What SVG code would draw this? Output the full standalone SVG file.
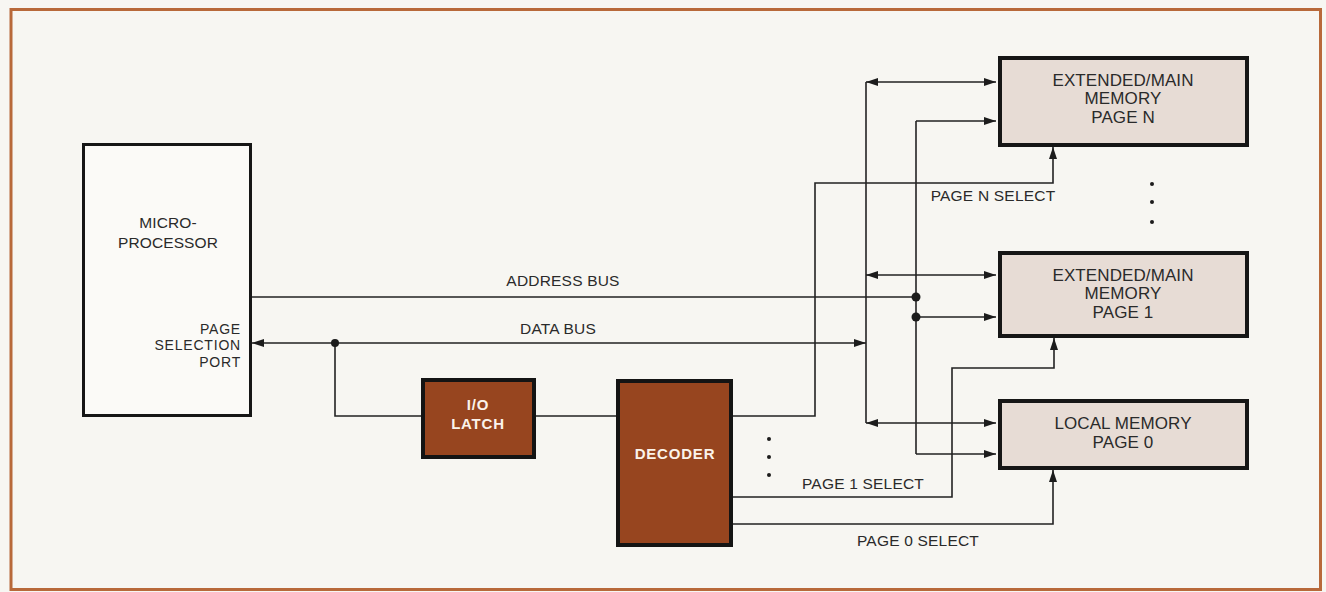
<svg xmlns="http://www.w3.org/2000/svg" width="1326" height="592" viewBox="0 0 1326 592">
<defs>
<marker id="arr" viewBox="0 0 12 8" refX="12" refY="4" markerWidth="12" markerHeight="8" markerUnits="userSpaceOnUse" orient="auto-start-reverse">
<path d="M0,0 L12,4 L0,8 z" fill="#1c1c1c"/>
</marker>
<style>
.ln{fill:none;stroke:#222;stroke-width:1.6}
.dot{fill:#1c1c1c}
.t{font-family:"Liberation Sans",Arial,sans-serif;font-size:15.5px;fill:#2a2a2a;letter-spacing:0.2px}
.m{font-family:"Liberation Sans",Arial,sans-serif;font-size:17px;fill:#2a2a2a;letter-spacing:0.1px;text-anchor:middle}
.w{font-family:"Liberation Sans",Arial,sans-serif;font-size:15px;font-weight:bold;fill:#fbf3ea;text-anchor:middle;letter-spacing:0.8px}
.mem{fill:#e7dcd5;stroke:#161616;stroke-width:4}
.brn{fill:#97451f;stroke:#141414;stroke-width:4}
</style>
</defs>
<rect x="0" y="0" width="1326" height="592" fill="#f7f6f2"/>
<rect x="11" y="9.5" width="1309.5" height="580" fill="none" stroke="#b8693a" stroke-width="3"/>

<g id="connectors">
<path class="ln" d="M252,297 H916"/>
<path class="ln" d="M252,343 H866" marker-start="url(#arr)" marker-end="url(#arr)"/>
<path class="ln" d="M335,343 V416 H421"/>
<path class="ln" d="M536,416 H616"/>
<path class="ln" d="M733,416 H815 V183 H1053 V147" marker-end="url(#arr)"/>
<path class="ln" d="M733,497 H952 V368 H1054 V338" marker-end="url(#arr)"/>
<path class="ln" d="M733,524 H1053 V470" marker-end="url(#arr)"/>
<path class="ln" d="M866,82 V423"/>
<path class="ln" d="M866,82 H996" marker-start="url(#arr)" marker-end="url(#arr)"/>
<path class="ln" d="M866,275 H996" marker-start="url(#arr)" marker-end="url(#arr)"/>
<path class="ln" d="M866,423 H996" marker-start="url(#arr)" marker-end="url(#arr)"/>
<path class="ln" d="M916,121 V454"/>
<path class="ln" d="M916,121 H996" marker-end="url(#arr)"/>
<path class="ln" d="M916,317 H996" marker-end="url(#arr)"/>
<path class="ln" d="M916,454 H996" marker-end="url(#arr)"/>
<circle class="dot" cx="335" cy="343" r="4"/>
<circle class="dot" cx="916" cy="297" r="4.5"/>
<circle class="dot" cx="916" cy="317" r="4.5"/>
<circle class="dot" cx="769" cy="439" r="2"/>
<circle class="dot" cx="769" cy="457" r="2"/>
<circle class="dot" cx="769" cy="475" r="2"/>
<circle class="dot" cx="1152" cy="184" r="2"/>
<circle class="dot" cx="1152" cy="202" r="2"/>
<circle class="dot" cx="1152" cy="222" r="2"/>
<text class="t" x="563" y="286" text-anchor="middle">ADDRESS BUS</text>
<text class="t" x="558" y="334" text-anchor="middle">DATA BUS</text>
<text class="t" x="993" y="201" text-anchor="middle">PAGE N SELECT</text>
<text class="t" x="863" y="489" text-anchor="middle">PAGE 1 SELECT</text>
<text class="t" x="918" y="546" text-anchor="middle">PAGE 0 SELECT</text>
</g>

<g id="microprocessor">
<rect x="83.5" y="144.5" width="167" height="271" fill="#fbfaf7" stroke="#161616" stroke-width="3"/>
<text class="m" x="168" y="228" style="font-size:15.5px">MICRO-</text>
<text class="m" x="168" y="248" style="font-size:15.5px">PROCESSOR</text>
<text class="t" x="241" y="334" text-anchor="end" style="font-size:14px;letter-spacing:0.8px">PAGE</text>
<text class="t" x="241" y="350" text-anchor="end" style="font-size:14px;letter-spacing:0.8px">SELECTION</text>
<text class="t" x="241" y="367" text-anchor="end" style="font-size:14px;letter-spacing:0.8px">PORT</text>
</g>

<g id="io-latch">
<rect class="brn" x="423" y="380" width="111" height="77"/>
<text class="w" x="478" y="410">I/O</text>
<text class="w" x="478" y="429">LATCH</text>
</g>

<g id="decoder">
<rect class="brn" x="618" y="381" width="113" height="164"/>
<text class="w" x="675" y="459">DECODER</text>
</g>

<g id="memory-page-n">
<rect class="mem" x="1000" y="58" width="247" height="87"/>
<text class="m" x="1123" y="86">EXTENDED/MAIN</text>
<text class="m" x="1123" y="104">MEMORY</text>
<text class="m" x="1123" y="123">PAGE N</text>
</g>

<g id="memory-page-1">
<rect class="mem" x="1000" y="253" width="247" height="83"/>
<text class="m" x="1123" y="281">EXTENDED/MAIN</text>
<text class="m" x="1123" y="299">MEMORY</text>
<text class="m" x="1123" y="318">PAGE 1</text>
</g>

<g id="local-memory-page-0">
<rect class="mem" x="1000" y="401" width="247" height="67"/>
<text class="m" x="1123" y="429">LOCAL MEMORY</text>
<text class="m" x="1123" y="448">PAGE 0</text>
</g>
</svg>
